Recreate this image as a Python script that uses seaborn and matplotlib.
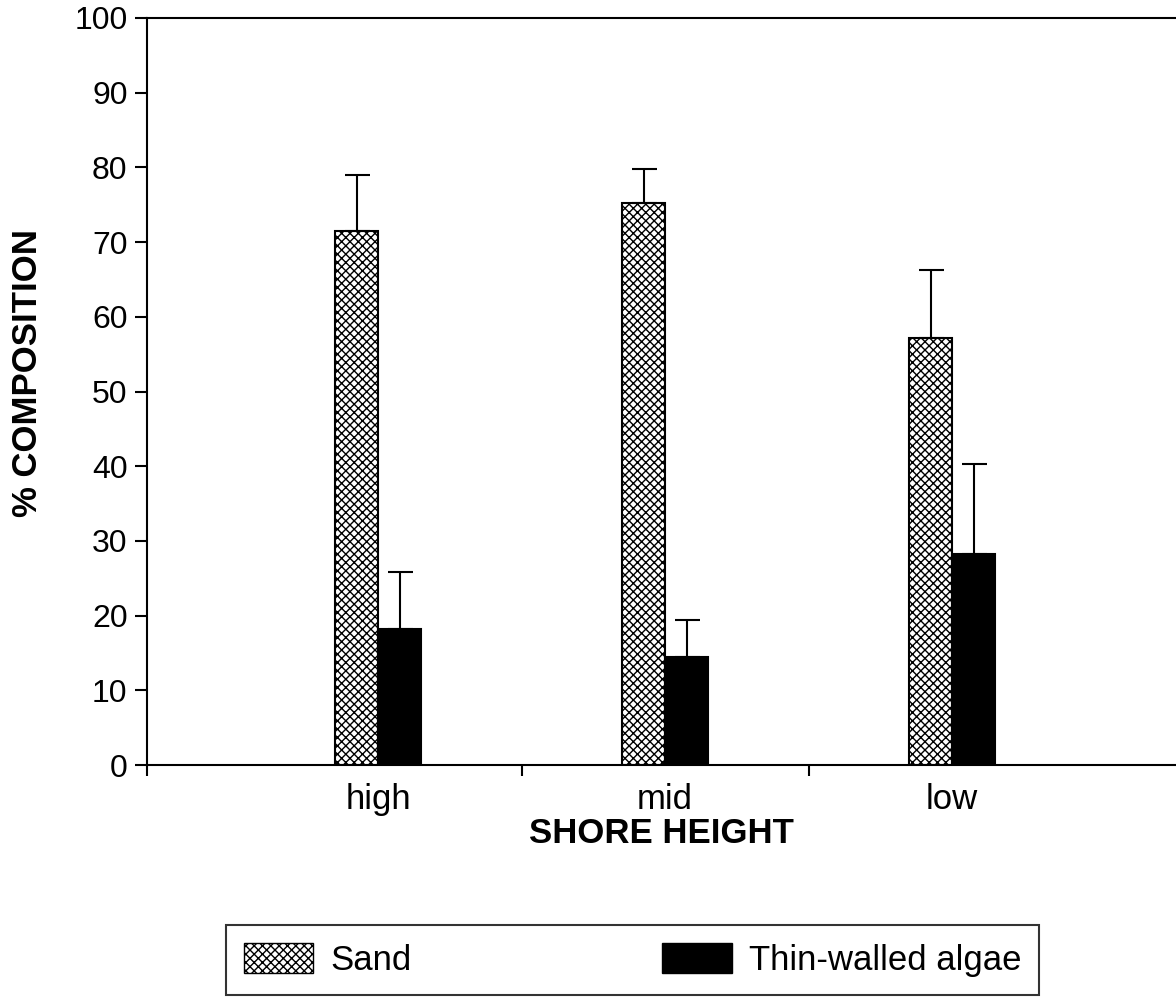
import matplotlib
matplotlib.use("Agg")
import matplotlib.pyplot as plt
import seaborn as sns
import pandas as pd
import numpy as np
from matplotlib.patches import Patch

categories = ["high", "mid", "low"]
series = ["Sand", "Thin-walled algae"]
sand_mean = [71.5, 75.2, 57.2]
sand_err = [7.5, 4.6, 9.0]
algae_mean = [18.2, 14.4, 28.3]
algae_err = [7.6, 5.0, 12.0]
yticks = [0, 10, 20, 30, 40, 50, 60, 70, 80, 90, 100]

df = pd.DataFrame({
    "shore": categories * 2,
    "type": [series[0]] * 3 + [series[1]] * 3,
    "value": sand_mean + algae_mean,
    "err": sand_err + algae_err,
})

sns.set_theme(style="white")
plt.rcParams["font.family"] = ["Liberation Sans", "DejaVu Sans"]
plt.rcParams["hatch.linewidth"] = 1.0
plt.rcParams["text.color"] = "black"
plt.rcParams["axes.labelcolor"] = "black"
plt.rcParams["xtick.color"] = "black"
plt.rcParams["ytick.color"] = "black"

fig = plt.figure(figsize=(11.76, 9.99), dpi=100)
ax = fig.add_axes([0.125, 0.2342, 0.875, 0.7478])

sns.barplot(data=df, x="shore", y="value", hue="type", order=categories,
            hue_order=series, palette=["white", "black"], width=0.3,
            errorbar=None, ax=ax, legend=False, saturation=1)

# style bars & error bars (upper only)
for container, s, errs in zip(ax.containers, series, [sand_err, algae_err]):
    for bar, e in zip(container, errs):
        bar.set_edgecolor("black")
        bar.set_linewidth(1.5)
        if s == "Sand":
            bar.set_hatch("xxxx")
            bar.set_facecolor("white")
        xc = bar.get_x() + bar.get_width() / 2
        h = bar.get_height()
        ax.errorbar([xc], [h], yerr=[[0], [e]], fmt="none", ecolor="black",
                    elinewidth=1.5, capsize=9, capthick=1.5, zorder=1)

ax.set_xlim(-0.805, 2.78)
ax.set_ylim(0, 100)
ax.set_yticks(yticks)
ax.set_yticklabels([str(t) for t in yticks], fontsize=23)
ax.set_xticks([0, 1, 2])
ax.set_xticklabels(categories, fontsize=25)
ax.set_xticks([-0.805, 0.5, 1.5], minor=True)
ax.tick_params(axis="x", which="major", length=0, pad=13)
ax.tick_params(axis="x", which="minor", length=8, width=1.5, color="black", bottom=True)
ax.tick_params(axis="y", which="major", length=8.5, width=1.5, color="black", left=True, pad=5.5)

for side in ["left", "bottom", "top"]:
    ax.spines[side].set_visible(True)
    ax.spines[side].set_color("black")
    ax.spines[side].set_linewidth(1.5)
ax.spines["right"].set_visible(False)

ax.set_ylabel("% COMPOSITION", fontsize=25, fontweight="bold")
ax.yaxis.set_label_coords(-0.10, 0.525)
ax.set_xlabel("SHORE HEIGHT", fontsize=25, fontweight="bold", labelpad=1)

handles = [Patch(facecolor="white", edgecolor="black", hatch="xxxx", linewidth=1.0),
           Patch(facecolor="black", edgecolor="black")]
leg = fig.legend(handles, series, loc="upper center", bbox_to_anchor=(0.538, 0.074),
                 ncol=2, fontsize=25, frameon=True, fancybox=False,
                 handlelength=2.0, handleheight=0.95, columnspacing=7.2,
                 handletextpad=0.5, borderpad=0.52, borderaxespad=0)
leg.get_frame().set_edgecolor("black")
leg.get_frame().set_linewidth(1.5)

fig.savefig("out.png", dpi=100)
